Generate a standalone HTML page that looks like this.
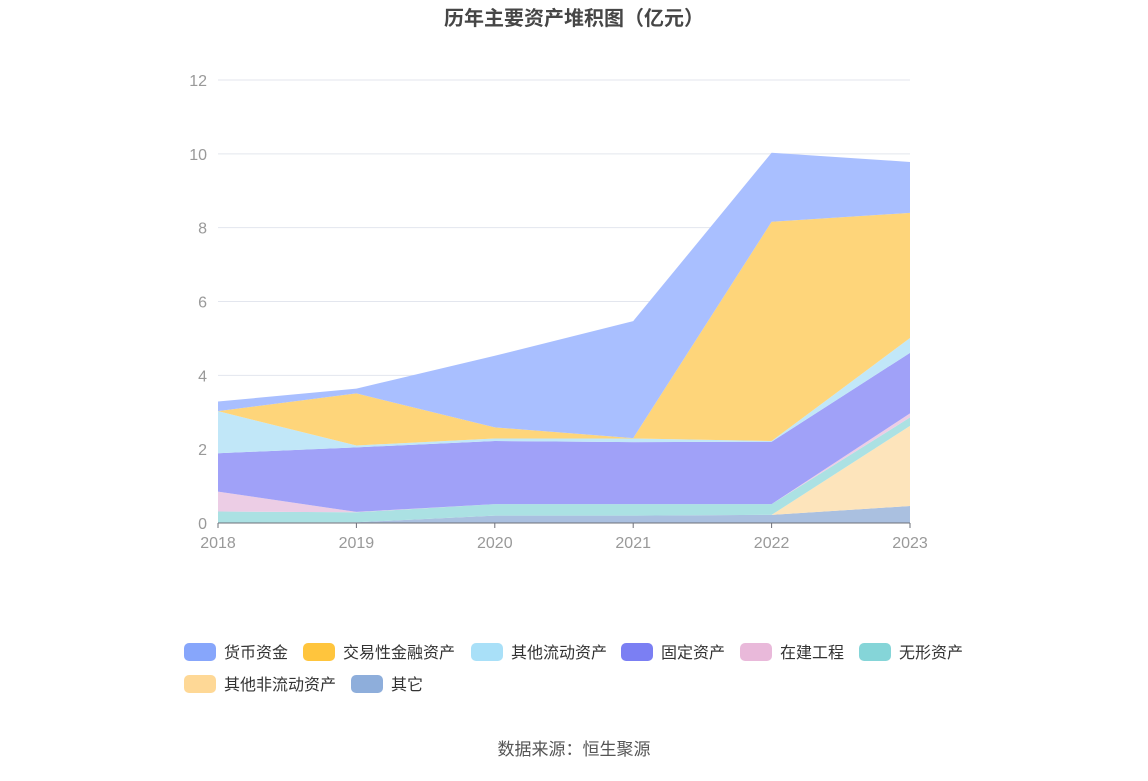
<!DOCTYPE html>
<html><head><meta charset="utf-8"><style>
body{margin:0;background:#fff;font-family:"Liberation Sans","Noto Sans CJK SC",sans-serif;}
svg text{font-family:"Liberation Sans","Noto Sans CJK SC",sans-serif;}
</style></head><body>
<svg id="c" width="1148" height="776" xmlns="http://www.w3.org/2000/svg">
<text x="574" y="25" text-anchor="middle" font-size="20" font-weight="bold" fill="#464646">历年主要资产堆积图（亿元）</text>
<g id="grid"></g>
<g id="areas"></g>
<g id="axes"></g>
<g id="legend"></g>
<text x="574" y="755" text-anchor="middle" font-size="17" fill="#555">数据来源：恒生聚源</text>
</svg>
<script>
const years=["2018","2019","2020","2021","2022","2023"];
const yTicks=[0,2,4,6,8,10,12];
const other=[0.01,0.02,0.2,0.2,0.22,0.46];
const otherNonCurrent=[0,0,0,0,0,2.17];
const intangible=[0.30,0.27,0.31,0.31,0.29,0.23];
const construction=[0.54,0.01,0,0,0,0.11];
const fixedAssets=[1.04,1.75,1.71,1.68,1.69,1.64];
const otherCurrent=[1.14,0.05,0.07,0.1,0.02,0.4];
const tradingFin=[0,1.41,0.3,0.01,5.94,3.39];
const cash=[0.26,0.13,1.94,3.17,1.87,1.38];
const series=[
 {n:"其它",k:"other",d:other,f:"#aac0e0",l:"#8eaedb"},
 {n:"其他非流动资产",k:"other-noncurrent",d:otherNonCurrent,f:"#fde4bb",l:"#fed896"},
 {n:"无形资产",k:"intangible",d:intangible,f:"#abe1e3",l:"#85d5d8"},
 {n:"在建工程",k:"construction",d:construction,f:"#eccde5",l:"#e9b9da"},
 {n:"固定资产",k:"fixed-assets",d:fixedAssets,f:"#a0a1f8",l:"#7b7ff3"},
 {n:"其他流动资产",k:"other-current",d:otherCurrent,f:"#c1e7f8",l:"#a9e0f8"},
 {n:"交易性金融资产",k:"trading-financial",d:tradingFin,f:"#fed57a",l:"#ffc53d"},
 {n:"货币资金",k:"cash",d:cash,f:"#a9bfff",l:"#87a6fb"}
];
const NS="http://www.w3.org/2000/svg";
const x0=218,x1=910,y0=523,yTop=80,yMax=12;
const X=i=>x0+(x1-x0)*i/(years.length-1);
const Y=v=>y0-(y0-yTop)*v/yMax;
function mk(t,a,p){const e=document.createElementNS(NS,t);for(const k in a)e.setAttribute(k,a[k]);p.appendChild(e);return e;}
const grid=document.getElementById('grid'),axes=document.getElementById('axes'),areas=document.getElementById('areas'),legend=document.getElementById('legend');
yTicks.forEach(v=>{
 if(v>0){const g=mk('line',{x1:x0,x2:x1,y1:Y(v),y2:Y(v),stroke:'#e3e6ee'},grid);
 
 }
 const t=mk('text',{x:207,y:Y(v)+6,'text-anchor':'end','font-size':16,fill:'#999'},axes);t.textContent=v;
 
 
});
let base=years.map(()=>0);
series.forEach(s=>{
 const top=base.map((b,i)=>b+s.d[i]);
 let p='';top.forEach((v,i)=>p+=(i?'L':'M')+X(i)+','+Y(v));
 for(let i=years.length-1;i>=0;i--)p+='L'+X(i)+','+Y(base[i]);
 const e=mk('path',{d:p+'Z',fill:s.f},areas);
 
 
 base=top;
});
const ax=mk('line',{x1:x0,x2:x1,y1:y0,y2:y0,stroke:'#6e7079'},axes);


years.forEach((y,i)=>{
 const tk=mk('line',{x1:X(i),x2:X(i),y1:y0,y2:y0+5,stroke:'#6e7079'},axes);
 
 
 const t=mk('text',{x:X(i),y:548,'text-anchor':'middle','font-size':16,fill:'#999'},axes);t.textContent=y;
 
 
});
const order=[7,6,5,4,3,2,1,0];
const pos=[[184,651],[303,651],[471,651],[621,651],[740,651],[859,651],[184,683],[351,683]];
order.forEach((si,j)=>{
 const s=series[si],[lx,ly]=pos[j];
 const g=mk('g',{},legend);
 
 
 mk('rect',{x:lx,y:ly-8,width:32,height:18,rx:5,fill:s.l},g);
 const t=mk('text',{x:lx+40,y:ly+7,'font-size':16,fill:'#333'},g);t.textContent=s.n;
});
</script>
</body></html>
